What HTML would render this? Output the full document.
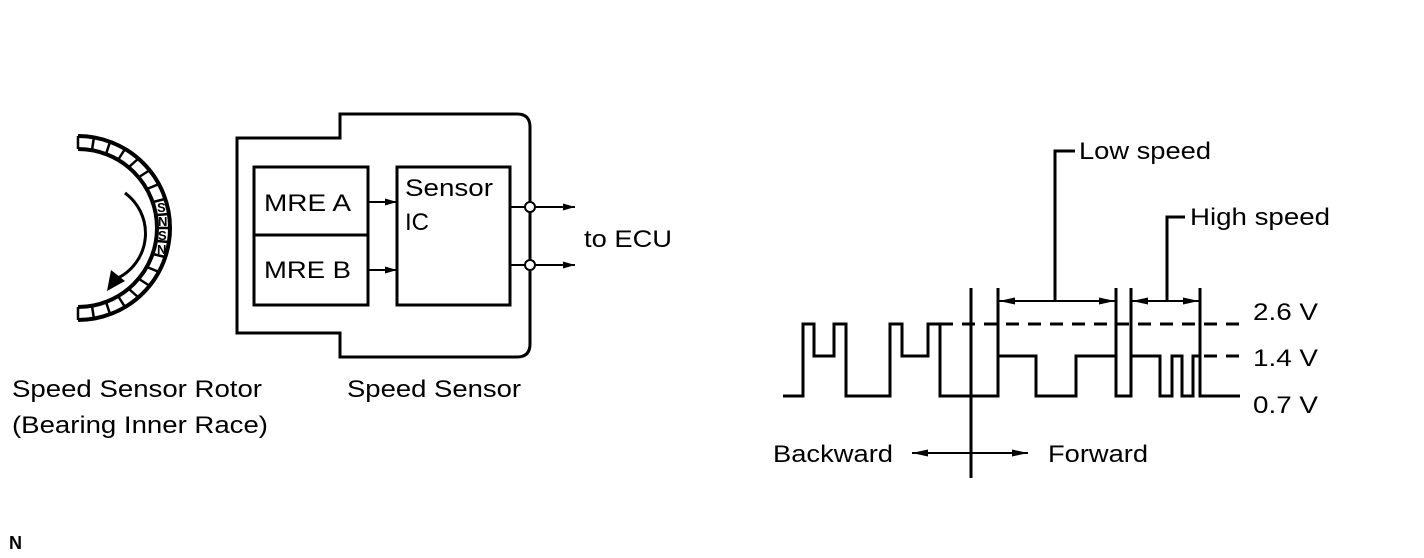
<!DOCTYPE html>
<html><head><style>html,body{margin:0;padding:0;background:#fff}svg{display:block}text{font-family:"Liberation Sans",Arial,sans-serif;fill:#000}</style></head>
<body>
<svg width="1424" height="558" viewBox="0 0 1424 558" xmlns="http://www.w3.org/2000/svg">
<defs>
<marker id="ah" markerWidth="12" markerHeight="8" refX="12" refY="4" orient="auto" markerUnits="userSpaceOnUse"><path d="M0,0.5 L12,4 L0,7.5 Z" fill="#000"/></marker>
<marker id="ah2" markerWidth="16" markerHeight="9" refX="16" refY="4.5" orient="auto" markerUnits="userSpaceOnUse"><path d="M0,1 L16,4.5 L0,8 Z" fill="#000"/></marker>
</defs>
<g fill="none" stroke="#000" stroke-width="4">
<path d="M78,136 A92,92 0 0 1 78,320"/>
<path d="M78,149 A79,79 0 0 1 78,307"/>
<path d="M125,193 A50,50 0 0 1 118,278" stroke-width="3"/>
</g>
<path d="M107,291 L111,270 L125,281 Z" fill="#000"/>
<g stroke="#000" stroke-width="2.5">
<line x1="78" y1="136" x2="78" y2="149"/><line x1="78" y1="307" x2="78" y2="320"/>
<line x1="94" y1="137" x2="92" y2="150"/><line x1="110" y1="142" x2="106" y2="154"/>
<line x1="125" y1="149" x2="118" y2="160"/><line x1="139" y1="158" x2="129" y2="167"/>
<line x1="150" y1="170" x2="139" y2="177"/><line x1="159" y1="184" x2="147" y2="189"/>
<line x1="94" y1="319" x2="92" y2="306"/><line x1="110" y1="314" x2="106" y2="302"/>
<line x1="125" y1="307" x2="118" y2="296"/><line x1="139" y1="298" x2="129" y2="289"/>
<line x1="150" y1="286" x2="139" y2="279"/><line x1="159" y1="272" x2="147" y2="267"/>
<line x1="165" y1="257" x2="153" y2="254"/>
<line x1="165" y1="199" x2="153" y2="202"/>
<line x1="169" y1="214" x2="157" y2="215"/><line x1="170" y1="228" x2="158" y2="228"/><line x1="169" y1="242" x2="157" y2="241"/>
</g>
<g font-size="13" font-weight="bold">
<text x="157" y="212">S</text><text x="158" y="226">N</text><text x="158" y="240">S</text><text x="157" y="254">N</text>
</g>
<g fill="none" stroke="#000" stroke-width="3">
<path d="M237,138 H340 V114 H517 Q530,114 530,127 V344 Q530,357 517,357 H340 V333 H237 Z"/>
<rect x="254" y="167" width="114" height="138"/>
<line x1="254" y1="235" x2="368" y2="235"/>
<rect x="397" y="167" width="113" height="138"/>
<line x1="368" y1="202" x2="397" y2="202" stroke-width="2" marker-end="url(#ah)"/>
<line x1="368" y1="270" x2="397" y2="270" stroke-width="2" marker-end="url(#ah)"/>
<line x1="510" y1="207" x2="575" y2="207" stroke-width="2" marker-end="url(#ah)"/>
<line x1="510" y1="265" x2="575" y2="265" stroke-width="2" marker-end="url(#ah)"/>
<circle cx="530" cy="207" r="5" fill="#fff" stroke-width="2"/>
<circle cx="530" cy="265" r="5" fill="#fff" stroke-width="2"/>
</g>
<g font-size="24">
<text x="264" y="211" textLength="87" lengthAdjust="spacingAndGlyphs">MRE A</text>
<text x="264" y="278" textLength="87" lengthAdjust="spacingAndGlyphs">MRE B</text>
<text x="405" y="196" textLength="88" lengthAdjust="spacingAndGlyphs">Sensor</text>
<text x="405" y="230">IC</text>
<text x="584" y="247" textLength="88" lengthAdjust="spacingAndGlyphs">to ECU</text>
<text x="12" y="397" textLength="250" lengthAdjust="spacingAndGlyphs">Speed Sensor Rotor</text>
<text x="12" y="433" textLength="256" lengthAdjust="spacingAndGlyphs">(Bearing Inner Race)</text>
<text x="347" y="397" textLength="174" lengthAdjust="spacingAndGlyphs">Speed Sensor</text>
<text x="1079" y="159" textLength="132" lengthAdjust="spacingAndGlyphs">Low speed</text>
<text x="1190" y="225" textLength="140" lengthAdjust="spacingAndGlyphs">High speed</text>
<text x="1253" y="320" textLength="65" lengthAdjust="spacingAndGlyphs">2.6 V</text>
<text x="1253" y="366" textLength="65" lengthAdjust="spacingAndGlyphs">1.4 V</text>
<text x="1253" y="413" textLength="65" lengthAdjust="spacingAndGlyphs">0.7 V</text>
<text x="773" y="462" textLength="120" lengthAdjust="spacingAndGlyphs">Backward</text>
<text x="1048" y="462" textLength="100" lengthAdjust="spacingAndGlyphs">Forward</text>
</g>
<text x="9" y="549" font-size="18" font-weight="bold">N</text>
<g fill="none" stroke="#000" stroke-width="3">
<path d="M783,396 H803 V324 H814 V356 H834 V324 H846 V396 H890 V324 H902 V356 H928 V324 H940 V396 H998 V356 H1036 V396 H1076 V356 H1116 V396 H1131 V356 H1160 V396 H1172 V356 H1182 V396 H1193 V356 H1200 V396 H1240"/>
<path d="M940,324 H1243" stroke-dasharray="13,9"/>
<path d="M1204,356 H1243" stroke-dasharray="13,9"/>
<line x1="971" y1="288" x2="971" y2="478"/>
<line x1="998" y1="288" x2="998" y2="396"/>
<line x1="1116" y1="288" x2="1116" y2="396"/>
<line x1="1131" y1="288" x2="1131" y2="396"/>
<line x1="1200" y1="288" x2="1200" y2="396"/>
<path d="M1055,301 V151 H1075"/>
<path d="M1167,301 V217 H1185"/>
<line x1="1057" y1="301" x2="999" y2="301" stroke-width="2" marker-end="url(#ah2)"/>
<line x1="1055" y1="301" x2="1115" y2="301" stroke-width="2" marker-end="url(#ah2)"/>
<line x1="1169" y1="301" x2="1132" y2="301" stroke-width="2" marker-end="url(#ah2)"/>
<line x1="1165" y1="301" x2="1199" y2="301" stroke-width="2" marker-end="url(#ah2)"/>
<line x1="971" y1="453" x2="912" y2="453" stroke-width="2" marker-end="url(#ah2)"/>
<line x1="971" y1="453" x2="1028" y2="453" stroke-width="2" marker-end="url(#ah2)"/>
</g>
</svg>
</body></html>
